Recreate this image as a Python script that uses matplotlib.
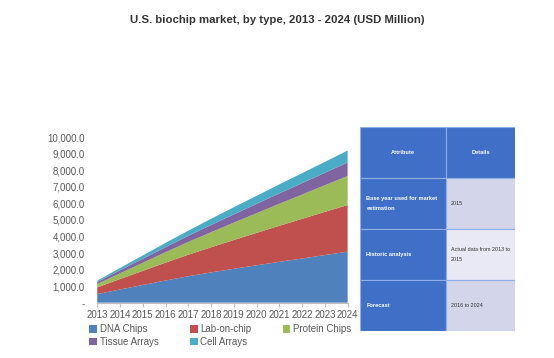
import matplotlib.pyplot as plt
from matplotlib.ticker import FuncFormatter

plt.rcParams['font.family'] = ['Liberation Sans', 'DejaVu Sans']

# Data (USD Million)
years = list(range(2013, 2025))
dna_chips = [520, 800, 1070, 1340, 1600, 1830, 2050, 2260, 2470, 2670, 2880, 3085]
lab_on_chip = [405, 630, 855, 1080, 1300, 1520, 1740, 1960, 2180, 2400, 2610, 2820]
protein_chips = [205, 345, 485, 630, 770, 910, 1050, 1190, 1330, 1470, 1610, 1755]
tissue_arrays = [120, 185, 250, 310, 375, 440, 500, 565, 630, 690, 755, 820]
cell_arrays = [80, 140, 195, 255, 310, 370, 430, 485, 545, 600, 660, 720]

series_names = ['DNA Chips', 'Lab-on-chip', 'Protein Chips', 'Tissue Arrays', 'Cell Arrays']
colors = ['#4F81BD', '#C0504D', '#9BBB59', '#8064A2', '#4BACC6']

# Table overlay text
table_rows = [
    ['Attribute', 'Details'],
    ['Base year used for market\nestimation', '2015'],
    ['Historic analysis', 'Actual data from 2013 to\n2015'],
    ['Forecast', '2016 to 2024'],
]

fig = plt.figure(figsize=(5.54, 3.58), dpi=100)
fig.patch.set_facecolor('white')

ax = fig.add_axes([0.1755, 0.1545, 0.452, 0.462])
ax.stackplot(years, dna_chips, lab_on_chip, protein_chips, tissue_arrays, cell_arrays,
             colors=colors, labels=series_names, linewidth=0)
ax.set_xlim(2013, 2024)
ax.set_ylim(0, 10000)
ax.set_yticks(range(0, 10001, 1000))
ax.yaxis.set_major_formatter(FuncFormatter(lambda v, p: '-' if v == 0 else f'{v:,.1f}'))
ax.set_xticks(years)
ax.set_xticklabels([str(y) for y in years])

for side in ['top', 'right', 'left']:
    ax.spines[side].set_visible(False)
ax.spines['bottom'].set_color('#BFBFBF')
ax.tick_params(axis='y', length=0, pad=9, labelsize=7, labelcolor='#595959')
ax.tick_params(axis='x', length=3, color='#BFBFBF', pad=2, labelsize=7, labelcolor='#595959')

fig.text(0.5, 0.943, 'U.S. biochip market, by type, 2013 - 2024 (USD Million)',
         ha='center', va='center', fontsize=8.2, fontweight='bold', color='#333333')

# legend fills column by column, so reorder to read row by row like the reference
handles, labels = ax.get_legend_handles_labels()
order = [0, 3, 1, 4, 2]
fig.legend([handles[i] for i in order], [labels[i] for i in order],
           loc='upper left', bbox_to_anchor=(0.152, 0.108), ncol=3,
           frameon=False, fontsize=7, handlelength=0.8, handleheight=0.8,
           handletextpad=0.3, columnspacing=3.2, labelspacing=0.3, borderpad=0,
           labelcolor='#595959')

# Table drawn on its own axes over the right part of the chart
tax = fig.add_axes([0.65, 0.0754, 0.2798, 0.5690])
tax.set_xlim(0, 1)
tax.set_ylim(0, 1)
tax.axis('off')
col_w = [0.557, 0.443]
text_pad = [0.04, 0.03]
row_h = 0.25
detail_bg = ['#D3D5EB', '#E8E9F5', '#D3D5EB']
for r, row in enumerate(table_rows):
    y0 = 1 - (r + 1) * row_h
    x0 = 0
    for c, txt in enumerate(row):
        if r == 0 or c == 0:
            bg = '#3F6FC6'
            fc = 'white'
        else:
            bg = detail_bg[r - 1]
            fc = '#333333'
        tax.add_patch(plt.Rectangle((x0, y0), col_w[c], row_h, facecolor=bg,
                                    edgecolor='#8FB0E6', linewidth=0.8))
        if r == 0:
            tax.text(x0 + col_w[c] / 2, y0 + row_h / 2, txt, ha='center', va='center',
                     fontsize=4.1, fontweight='bold', color=fc)
        else:
            tax.text(x0 + text_pad[c], y0 + row_h / 2, txt, ha='left', va='center',
                     fontsize=4.1 if c == 0 else 3.9,
                     fontweight='bold' if c == 0 else 'normal',
                     color=fc, linespacing=2.1)
        x0 += col_w[c]

fig.savefig('out.png', dpi=100)
